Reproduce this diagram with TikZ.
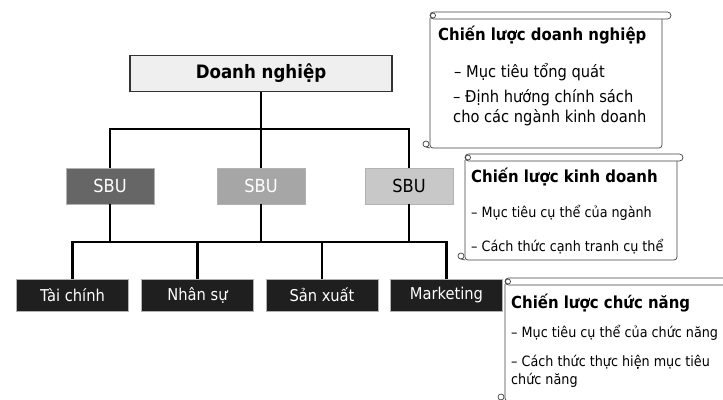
\documentclass[tikz,border=0pt]{standalone}
\usepackage{fontspec}
\setmainfont{DejaVu Sans Condensed}
\usetikzlibrary{positioning}

\definecolor{sbudark}{HTML}{666666}
\definecolor{sbumid}{HTML}{A6A6A6}
\definecolor{sbulight}{HTML}{C8C8C8}
\definecolor{funcfill}{HTML}{1F1F1F}
\definecolor{topfill}{HTML}{EFEFEF}

\tikzset{
  conn/.style={line width=2.6pt, black},
  topnode/.style={draw=black!80, line width=1.6pt, fill=topfill,
    minimum width=262pt, minimum height=36pt, inner sep=0pt,
    font=\fontsize{18.5}{22}\selectfont\bfseries},
  sbunode/.style={draw=gray!60, line width=0.6pt, minimum width=88pt,
    minimum height=36pt, inner sep=0pt, font=\fontsize{18}{21}\selectfont},
  funcnode/.style={draw=gray!60, line width=0.6pt, fill=funcfill, text=white,
    minimum width=112pt, minimum height=32pt, inner sep=0pt,
    font=\fontsize{16.3}{19}\selectfont},
  scrollline/.style={draw=black!75, line width=0.7pt, fill=white},
  scrolltitle/.style={anchor=west, inner sep=0pt, font=\fontsize{16.6}{20}\selectfont\bfseries},
  scrolltext/.style={anchor=west, inner sep=0pt}
}

% scroll: #1 left, #2 top, #3 right end of roll, #4 right of body, #5 bottom
\newcommand{\drawscroll}[5]{%
  \filldraw[scrollline, rounded corners=3pt] (#1,#2+6) -- (#1,#5) -- (#4,#5) -- (#4,#2+6);
  \filldraw[scrollline, rounded corners=3.5pt] (#1,#2) rectangle (#3,#2+7);
  \draw[scrollline] (#1+3,#2+3.5) circle[radius=2.5pt];
  \draw[scrollline] (#1-4,#5-4) circle[radius=3pt];
  \draw[scrollline] (#1-4,#5-1) -- (#1,#5);
}

\begin{document}
\begin{tikzpicture}[x=1pt, y=-1pt]
  \useasboundingbox (0,0) rectangle (723,399);
  \clip (0,0) rectangle (723,399);

  % enterprise level
  \node [topnode] (dn) at (261,73.5) {Doanh nghiệp};
  \coordinate (bus1) at (261,129);

  % business units
  \node [sbunode, fill=sbudark, text=white] (sbu1) at (110,186) {SBU};
  \node [sbunode, fill=sbumid, text=white] (sbu2) at (261,186) {SBU};
  \node [sbunode, fill=sbulight] (sbu3) at (409,186) {SBU};
  \coordinate (bus2) at (261,242);

  % functions
  \node [funcnode] (fin) at (72.5,295) {Tài chính};
  \node [funcnode] (hr) at (197.5,295) {Nhân sự};
  \node [funcnode] (prod) at (322,295) {Sản xuất};
  \node [funcnode] (mkt) at (446.5,295) {Marketing};

  % connectors
  \draw [conn] (dn.south) -- (bus1);
  \draw [conn] (sbu1.north) |- (bus1) -| (sbu3.north);
  \draw [conn] (bus1) -- (sbu2.north);
  \draw [conn] (fin.north) -- (fin.north |- bus2) -- (mkt.north |- bus2) -- (mkt.north);
  \foreach \n in {sbu1, sbu2, sbu3} {
    \draw [conn] (\n.south) -- (\n.south |- bus2);
  }
  \foreach \n in {hr, prod} {
    \draw [conn] (\n.north) -- (\n.north |- bus2);
  }

  % scroll: corporate strategy
  \drawscroll{430}{12}{671}{662}{148}
  \node [scrolltitle] (s1t) at (438,35) {Chiến lược doanh nghiệp};
  \begin{scope}[every node/.style={scrolltext, font=\fontsize{16.3}{19}\selectfont}]
    \node (s1a) at (454,72) {– Mục tiêu tổng quát};
    \node (s1b) at (453,98) {– Định hướng chính sách};
    \node (s1c) at (453,118) {cho các ngành kinh doanh};
  \end{scope}

  % scroll: business strategy
  \drawscroll{465}{154}{683}{677}{260}
  \node [scrolltitle] (s2t) at (471,177) {Chiến lược kinh doanh};
  \begin{scope}[every node/.style={scrolltext, font=\fontsize{14.2}{17}\selectfont}]
    \node (s2a) at (471,213) {– Mục tiêu cụ thể của ngành};
    \node (s2b) at (471,247) {– Cách thức cạnh tranh cụ thể};
  \end{scope}

  % scroll: functional strategy
  \drawscroll{505}{278}{745}{738}{401}
  \node [scrolltitle] (s3t) at (511,303) {Chiến lược chức năng};
  \begin{scope}[every node/.style={scrolltext, font=\fontsize{14.2}{17}\selectfont}]
    \node (s3a) at (511,333) {– Mục tiêu cụ thể của chức năng};
    \node (s3b) at (511,362) {– Cách thức thực hiện mục tiêu};
    \node (s3c) at (511,380) {chức năng};
  \end{scope}
\end{tikzpicture}
\end{document}
